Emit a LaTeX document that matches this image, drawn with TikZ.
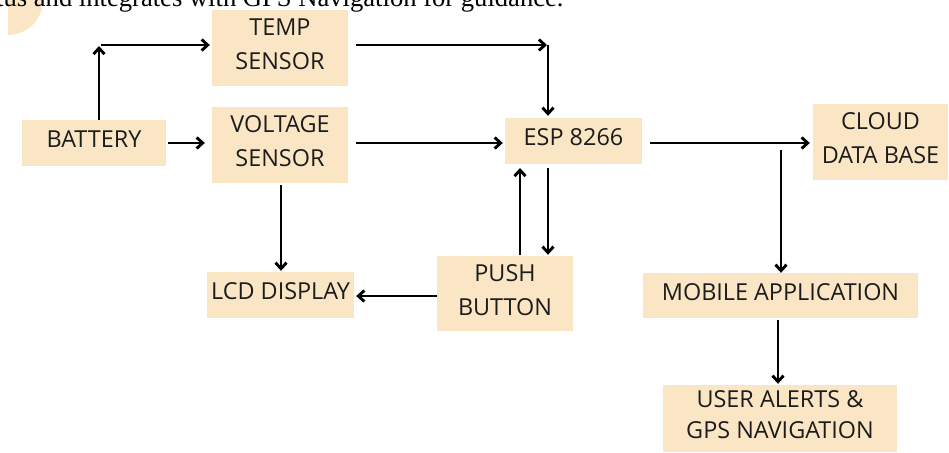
\documentclass[tikz,border=0pt]{standalone}
\usepackage{fontspec}
\setmainfont{Open Sans}
\newfontfamily\serifx{Liberation Serif}
\usetikzlibrary{arrows.meta}
\definecolor{boxfill}{HTML}{FAE6C4}
\definecolor{circfill}{HTML}{FBE7C6}
\definecolor{txt}{HTML}{1C1C1C}
\tikzset{
  blk/.style={fill=boxfill, draw=none, inner sep=0pt},
  blktext/.style={align=center, text=txt, inner sep=0pt,
    font=\fontsize{23.4}{34}\selectfont},
  arr/.style={line width=2.9pt, draw=black, -{Straight Barb[length=6pt,width=11pt,line width=2.9pt]}},
}
% \blkbox{name}{x}{y}{w}{h}{text}
\newcommand\blkbox[6]{%
  \node[blk, minimum width=#4pt, minimum height=#5pt] (#1) at (#2,#3) {};
  \node[blktext] (#1-t) at ([yshift=3.5pt]#1.center) {#6};
}
\begin{document}
\begin{tikzpicture}[x=1pt,y=-1pt]
\useasboundingbox (0,0) rectangle (949,452);
% decorative quarter disc
\begin{scope}
\clip (8,0) rectangle (60,45);
\fill[circfill] (8,0) circle[radius=35pt];
\end{scope}
% clipped caption line at top
\node[anchor=base west, inner sep=0pt, font=\serifx\fontsize{26.6}{30}\selectfont] (cap) at (-4,7)
  {tus and integrates with GPS Navigation for guidance.};
% blocks
\blkbox{bat}{94}{143}{144}{46}{BATTERY}
\blkbox{temp}{280}{48}{136}{76}{TEMP\\SENSOR}
\blkbox{volt}{280}{145}{136}{76}{VOLTAGE\\SENSOR}
\blkbox{lcd}{280.5}{295}{147}{46}{LCD DISPLAY}
\blkbox{push}{505}{293.5}{136}{75}{PUSH\\BUTTON}
\blkbox{esp}{573.5}{141}{137}{46}{ESP 8266}
\blkbox{cloud}{880.5}{142}{135}{76}{CLOUD\\DATA BASE}
\blkbox{mob}{780.5}{295.5}{275}{45}{MOBILE APPLICATION}
\blkbox{user}{780}{418.5}{234}{67}{USER ALERTS \&\\[-3pt]GPS NAVIGATION}
% junction points
\coordinate (c1) at (99,45);
\coordinate (c2) at (548,45);
\coordinate (c3) at (781,150);
\coordinate (eb) at (548,164);
\coordinate (ea) at (520,164);
% connectors
\draw[arr, shorten >=1pt] (bat.north -| c1) -- (c1);
\draw[arr, shorten <=2pt, shorten >=2pt] (c1) -- (temp.west |- c1);
\draw[arr, shorten <=8pt, shorten >=1pt] (temp.east |- c2) -- (c2);
\draw[arr, shorten >=2pt] (c2) -- (esp.north -| c2);
\draw[arr, shorten <=2pt, shorten >=7pt] (bat.east) -- (volt.west |- bat.east);
\draw[arr, shorten <=8pt, shorten >=2pt] (volt.east |- 0,143) -- (esp.west |- 0,143);
\draw[arr, shorten <=8pt, shorten >=3pt] (esp.east |- 0,143) -- (cloud.west |- 0,143);
\draw[arr] (c3) -- (mob.north -| c3);
\draw[arr, shorten <=4pt, shorten >=1pt] (eb) -- (push.north -| eb);
\draw[arr, shorten <=1pt, shorten >=4pt] (push.north -| ea) -- (ea);
\draw[arr, shorten <=2pt, shorten >=1pt] (volt.south -| 281,0) -- (lcd.north -| 281,0);
\draw[arr, shorten >=2pt] (push.west |- 0,296) -- (lcd.east |- 0,296);
\draw[arr, shorten <=2pt, shorten >=1pt] (mob.south -| 778,0) -- (user.north -| 778,0);
\end{tikzpicture}
\end{document}
